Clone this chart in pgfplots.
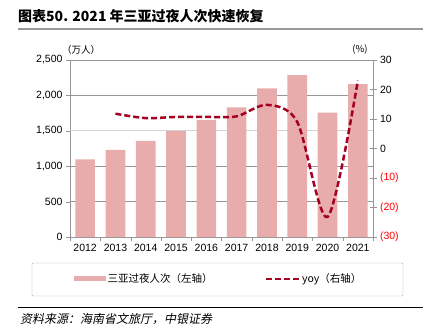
\documentclass[border=0pt]{standalone}
\usepackage{pgfplots}
\pgfplotsset{compat=1.18}
\usepackage{fontspec}
\setmainfont{Liberation Sans}
\newfontfamily\cjk{Noto Sans CJK SC}
\newfontfamily\cjksl[FakeSlant=0.2]{Noto Sans CJK SC}
\definecolor{barc}{RGB}{232,172,172}
\definecolor{linec}{RGB}{165,0,33}
\definecolor{negc}{RGB}{255,0,0}
\definecolor{gridc}{RGB}{150,150,150}
\begin{document}
\begin{tikzpicture}
\path[use as bounding box] (0pt,0pt) rectangle (433pt,335pt);
\node[anchor=base west, inner sep=0] at (18pt,313pt) {\cjk\bfseries\fontsize{14}{16}\selectfont 图表50. 2021 年三亚过夜人次快速恢复};
\draw[gray!80, line width=1.5pt] (18pt,306pt) -- (423pt,306pt);
\draw[black, line width=1pt] (18pt,28pt) -- (423pt,28pt);
\node[anchor=base west, inner sep=0] at (20pt,12pt) {\cjksl\fontsize{12}{14}\selectfont 资料来源：海南省文旅厅，中银证券};
\node[anchor=center, inner sep=0] at (81pt,285pt) {\cjk\fontsize{9.5}{11}\selectfont （万人）};
\node[anchor=center, inner sep=0] at (360pt,285pt) {\cjk\fontsize{9.5}{11}\selectfont (\%)};
\draw[gray!60, rounded corners=1pt] (32pt,39pt) rectangle (403pt,72pt);
\begin{axis}[
  name=ax1,
  at={(70pt,98pt)}, anchor=south west, scale only axis,
  width=303pt, height=177pt,
  xmin=-0.5, xmax=9.5, ymin=0, ymax=2500,
  axis x line*=bottom, axis y line*=left,
  axis line style={gridc},
  xtick={0,...,9},
  xticklabels={2012,2013,2014,2015,2016,2017,2018,2019,2020,2021},
  minor xtick={-0.5,0.5,...,9.5},
  major x tick style={draw=none},
  minor x tick style={gridc},
  ytick={0,500,1000,2000,2500},
  yticklabels={0,500,1{,}000,2{,}000,2{,}500},
  extra y ticks={1500},
  extra y tick labels={1{,}500},
  extra y tick style={grid style={gray!35, line width=1.3pt}},
  y tick style={gridc},
  tick align=outside,
  major tick length=4pt, minor tick length=4pt,
  ymajorgrids, grid style={gridc, line width=0.6pt},
  tick label style={font=\fontsize{10.5}{12}\selectfont},
  /pgf/number format/assume math mode=true,
  legend columns=2,
  legend style={at={(0.49,-0.237)}, anchor=center, draw=none, fill=none,
    font=\cjk\fontsize{10.5}{12}\selectfont,
    /tikz/every even column/.append style={column sep=50pt}},
]
\addplot[ybar, bar width=0.65, fill=barc, draw=none,
  legend image code/.code={\fill[barc] (0pt,-2.5pt) rectangle (32pt,2.5pt);}]
  coordinates {(0,1097) (1,1229) (2,1356) (3,1497) (4,1653) (5,1832) (6,2100) (7,2288) (8,1756) (9,2161)};
\addlegendentry{三亚过夜人次（左轴）}
\addlegendimage{legend image code/.code={\draw[linec, line width=2.5pt, dash pattern=on 6pt off 3pt] (0pt,0pt) -- (33pt,0pt);}}
\addlegendentry{yoy（右轴）}
\end{axis}
\begin{axis}[
  at={(ax1.south west)}, anchor=south west, scale only axis,
  width=303pt, height=177pt,
  xmin=-0.5, xmax=9.5, ymin=-30, ymax=30,
  axis x line=none, axis y line*=right,
  axis line style={gridc},
  ytick={-30,-20,...,30},
  yticklabels={\textcolor{negc}{(30)},\textcolor{negc}{(20)},\textcolor{negc}{(10)},0,10,20,30},
  y tick style={gridc},
  tick align=center, major tick length=7pt,
  tick label style={font=\fontsize{10.5}{12}\selectfont},
  /pgf/number format/assume math mode=true,
]
\addplot[linec, line width=2.5pt, dash pattern=on 6pt off 3pt, smooth, tension=0.5]
  coordinates {(1,11.8) (2,10.3) (3,10.7) (4,10.7) (5,10.9) (6,14.8) (7,9.0) (8,-23.2) (9,23.0)};
\end{axis}
\end{tikzpicture}
\end{document}
